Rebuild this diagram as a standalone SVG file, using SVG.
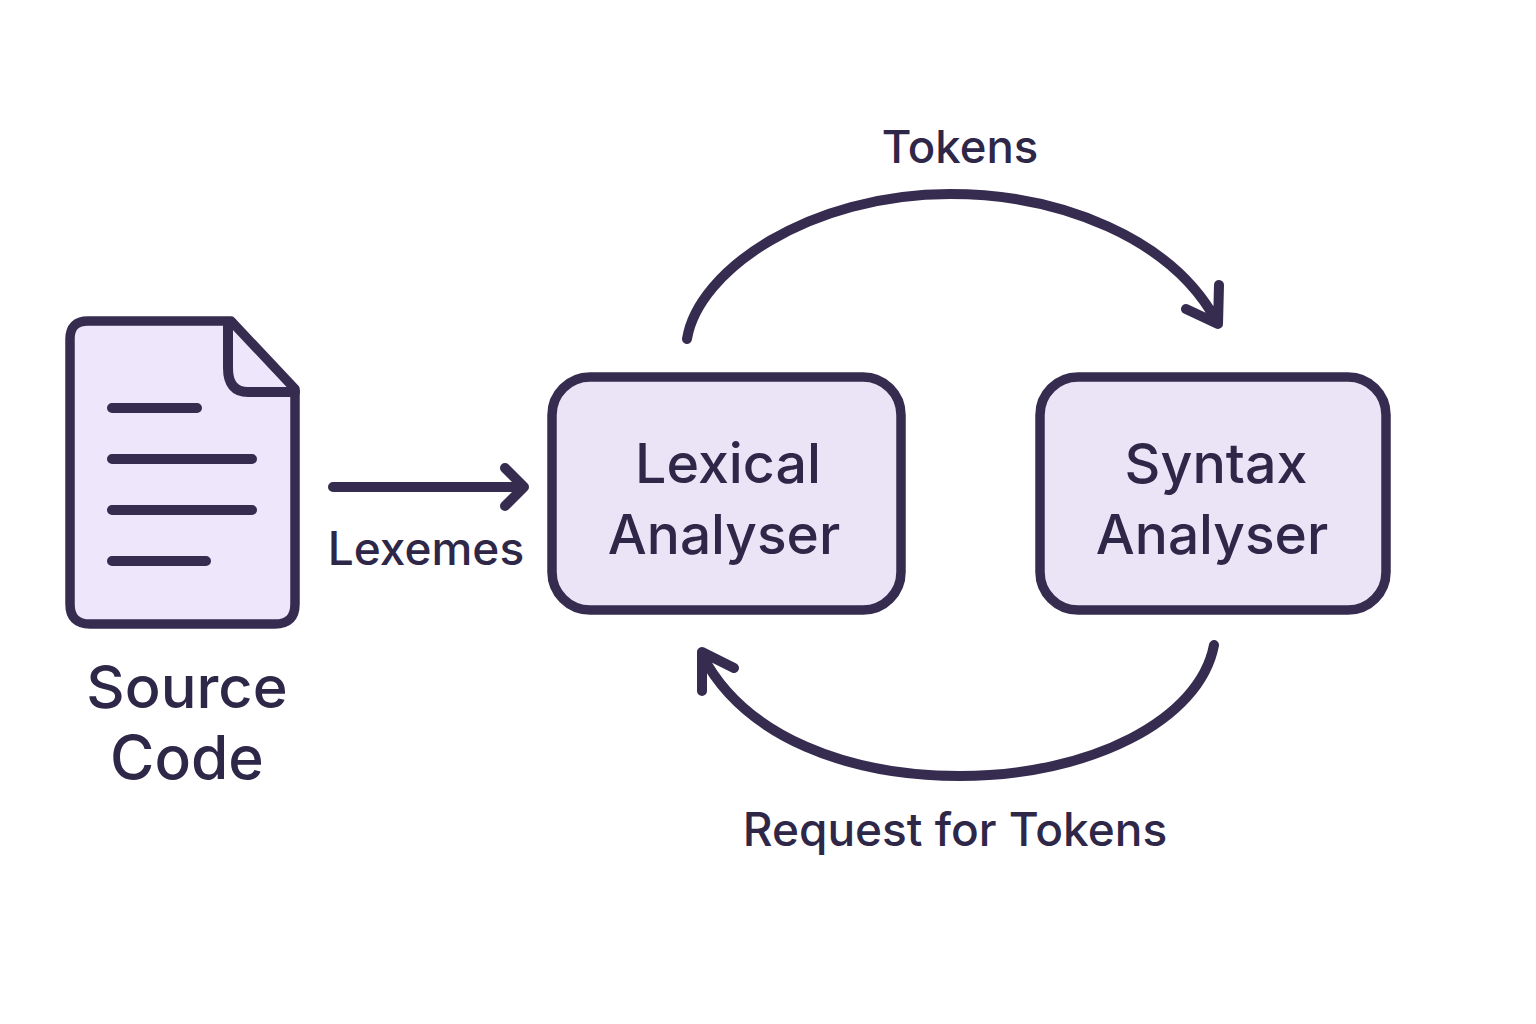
<svg xmlns="http://www.w3.org/2000/svg" width="1536" height="1024" viewBox="0 0 1536 1024">
<style>
.s{fill:none;stroke:#352c50;stroke-width:10;stroke-linecap:round;stroke-linejoin:round}
.b{fill:#ebe4f7;stroke:#352c50;stroke-width:9.5;stroke-linejoin:round}
.t{font-family:Inter,"Noto Sans",sans-serif;font-weight:525;fill:#2f2748;text-anchor:middle}
</style>
<rect width="1536" height="1024" fill="#fff"/>
<g id="source-code">
<path class="b" style="fill:#eee7fb" d="M88 321H231L295 389V604Q295 624 275 624H90Q70 624 70 604V339Q70 321 88 321Z"/>
<path class="s" d="M228 322V368Q228 392 248 392H295"/>
<path class="s" d="M112 408H197M112 459H252M112 510H252M112 561H206"/>
<text class="t" font-size="59.5" x="187" y="708">Source</text>
<text class="t" font-size="60.5" x="187" y="779">Code</text>
</g>
<g id="lexical-analyser">
<rect class="b" x="552" y="377" width="349" height="233" rx="38"/>
<text class="t" font-size="55.5" x="728" y="483">Lexical</text>
<text class="t" font-size="55" x="724" y="554">Analyser</text>
</g>
<g id="syntax-analyser">
<rect class="b" x="1040" y="377" width="346" height="233" rx="38"/>
<text class="t" font-size="55.5" x="1216" y="483">Syntax</text>
<text class="t" font-size="55" x="1212" y="554">Analyser</text>
</g>
<g id="connectors">
<path class="s" d="M333 487H522M505 468L524 487L505 506"/>
<path class="s" d="M687 339C698 270 810 194 950 194C1060 194 1172 238 1217 322M1219 285L1218 324L1186 309"/>
<path class="s" d="M1214 645C1200 720 1090 776 960 776C850 776 745 738 702 655M734 668L702 652L702 691"/>
</g>
<text class="t" font-size="46" x="426" y="565">Lexemes</text>
<text class="t" font-size="45.5" x="960" y="163">Tokens</text>
<text class="t" font-size="46" x="955" y="846">Request for Tokens</text>
</svg>
